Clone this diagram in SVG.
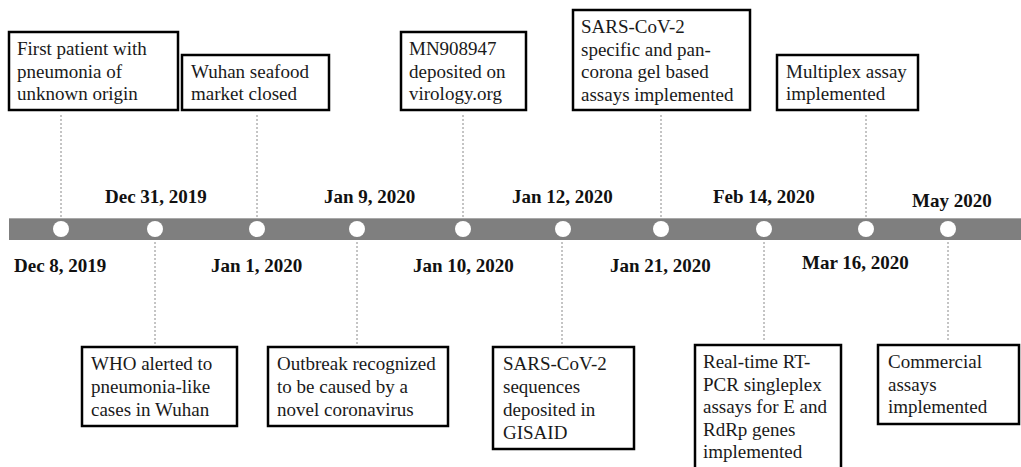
<svg xmlns="http://www.w3.org/2000/svg" width="1021" height="467" viewBox="0 0 1021 467">
<style>
.box{fill:#fff;stroke:#000;stroke-width:2.5}
.t{font-family:"Liberation Serif","Times New Roman",serif;font-size:19px;fill:#1a1a1a}
.d{font-family:"Liberation Serif","Times New Roman",serif;font-size:19px;font-weight:bold;fill:#111}
.dash{stroke:#8a8a8a;stroke-width:1;stroke-dasharray:2 2;fill:none}
.dot{fill:#fff}
</style>
<rect width="1021" height="467" fill="#fff"/>
<g id="timeline">
<rect x="9" y="218" width="1012" height="22" fill="#7f7f7f"/>
<line x1="9" y1="218.5" x2="1021" y2="218.5" stroke="#a8a8a8" stroke-width="1"/>
</g>
<g id="connectors">
<line class="dash" x1="61" y1="115" x2="61" y2="217"/>
<line class="dash" x1="257" y1="115" x2="257" y2="217"/>
<line class="dash" x1="463" y1="115" x2="463" y2="217"/>
<line class="dash" x1="661" y1="115" x2="661" y2="217"/>
<line class="dash" x1="866" y1="115" x2="866" y2="217"/>
<line class="dash" x1="155" y1="242" x2="155" y2="344"/>
<line class="dash" x1="357" y1="242" x2="357" y2="344"/>
<line class="dash" x1="562" y1="242" x2="562" y2="344"/>
<line class="dash" x1="764" y1="242" x2="764" y2="342"/>
<line class="dash" x1="948" y1="242" x2="948" y2="342"/>
</g>
<g id="dots">
<circle class="dot" cx="61" cy="229" r="8"/>
<circle class="dot" cx="155" cy="229" r="8"/>
<circle class="dot" cx="257" cy="229" r="8"/>
<circle class="dot" cx="357" cy="229" r="8"/>
<circle class="dot" cx="463" cy="229" r="8"/>
<circle class="dot" cx="563" cy="229" r="8"/>
<circle class="dot" cx="661" cy="229" r="8"/>
<circle class="dot" cx="764" cy="229" r="8"/>
<circle class="dot" cx="866" cy="229" r="8"/>
<circle class="dot" cx="948" cy="229" r="8"/>
</g>
<g id="dates">
<text class="d" x="14" y="272">Dec 8, 2019</text>
<text class="d" x="105" y="203">Dec 31, 2019</text>
<text class="d" x="211" y="272">Jan 1, 2020</text>
<text class="d" x="324" y="203">Jan 9, 2020</text>
<text class="d" x="413" y="272">Jan 10, 2020</text>
<text class="d" x="512" y="203">Jan 12, 2020</text>
<text class="d" x="610" y="272">Jan 21, 2020</text>
<text class="d" x="713" y="203">Feb 14, 2020</text>
<text class="d" x="802" y="269">Mar 16, 2020</text>
<text class="d" x="912" y="207">May 2020</text>
</g>
<g id="n-first-patient">
<rect class="box" x="9" y="32" width="169" height="78"/>
<text class="t" x="17" y="55">First patient with</text>
<text class="t" x="17" y="77.5">pneumonia of</text>
<text class="t" x="17" y="100">unknown origin</text>
</g>
<g id="n-wuhan-market">
<rect class="box" x="182" y="55" width="147" height="55"/>
<text class="t" x="191" y="77.5">Wuhan seafood</text>
<text class="t" x="191" y="100">market closed</text>
</g>
<g id="n-mn908947">
<rect class="box" x="401" y="32" width="125" height="78"/>
<text class="t" x="409" y="55">MN908947</text>
<text class="t" x="409" y="77.5">deposited on</text>
<text class="t" x="409" y="100">virology.org</text>
</g>
<g id="n-gel-assays">
<rect class="box" x="573" y="10" width="177" height="100"/>
<text class="t" x="581" y="33">SARS-CoV-2</text>
<text class="t" x="581" y="55.5">specific and pan-</text>
<text class="t" x="581" y="78">corona gel based</text>
<text class="t" x="581" y="100.5">assays implemented</text>
</g>
<g id="n-multiplex">
<rect class="box" x="777" y="55" width="141" height="55"/>
<text class="t" x="786" y="77.5">Multiplex assay</text>
<text class="t" x="786" y="100">implemented</text>
</g>
<g id="n-who">
<rect class="box" x="82" y="347" width="155" height="79"/>
<text class="t" x="91" y="370">WHO alerted to</text>
<text class="t" x="91" y="393">pneumonia-like</text>
<text class="t" x="91" y="416">cases in Wuhan</text>
</g>
<g id="n-outbreak">
<rect class="box" x="268" y="347" width="180" height="79"/>
<text class="t" x="277" y="370">Outbreak recognized</text>
<text class="t" x="277" y="393">to be caused by a</text>
<text class="t" x="277" y="416">novel coronavirus</text>
</g>
<g id="n-gisaid">
<rect class="box" x="493" y="347" width="141" height="102"/>
<text class="t" x="503" y="370">SARS-CoV-2</text>
<text class="t" x="503" y="393">sequences</text>
<text class="t" x="503" y="416">deposited in</text>
<text class="t" x="503" y="439">GISAID</text>
</g>
<g id="n-realtime">
<rect class="box" x="695" y="345" width="146" height="130"/>
<text class="t" x="703" y="368">Real-time RT-</text>
<text class="t" x="703" y="390.5">PCR singleplex</text>
<text class="t" x="703" y="413">assays for E and</text>
<text class="t" x="703" y="435.5">RdRp genes</text>
<text class="t" x="703" y="458">implemented</text>
</g>
<g id="n-commercial">
<rect class="box" x="878" y="345" width="141" height="79"/>
<text class="t" x="888" y="368">Commercial</text>
<text class="t" x="888" y="390.5">assays</text>
<text class="t" x="888" y="413">implemented</text>
</g>
</svg>
